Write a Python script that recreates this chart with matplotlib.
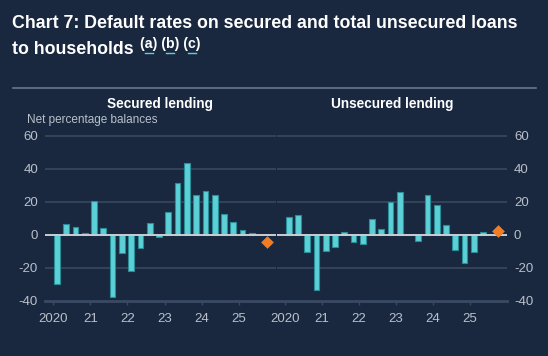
import numpy as np
import matplotlib
matplotlib.use("Agg")
import matplotlib.pyplot as plt


# ----------------------
# DATA (net percentage balances, quarterly 2020 Q1 - 2025 Q2)
# ----------------------
quarters = [f"{y} Q{q}" for y in range(2020, 2026) for q in range(1, 5)][:22]

secured = [-30, 6.5, 4.8, 0.8, 20.4, 3.8, -37.6, -11.3, -22.2, -7.9, 6.9, -1.4,
           13.9, 31.1, 43.6, 23.8, 26.3, 24.0, 12.5, 7.9, 2.6, 0.8]
unsecured = [10.9, 12.1, -10.3, -33.5, -9.9, -7.3, 1.8, -4.6, -5.5, 9.3, 3.2, 19.8,
             25.7, 0.0, -3.6, 23.8, 17.8, 5.9, -9.5, -17.2, -10.5, 1.4]

# expectations (diamonds)
expect_x = 2025.75
secured_expect = -4.4
unsecured_expect = 2.4

year_ticks = [2020, 2021, 2022, 2023, 2024, 2025]
year_labels = ["2020", "21", "22", "23", "24", "25"]
y_ticks = [-40, -20, 0, 20, 40, 60]

# ----------------------
# STYLE
# ----------------------
BG = "#19283f"
BAR = "#5bd0d6"
BAR_EDGE = "#2a8e99"
DIAMOND = "#f27c22"
GRID = "#3a4a62"
ZERO = "#c9ced6"
TICK_TXT = "#b9c0cb"

plt.rcParams['font.family'] = ['Liberation Sans', 'DejaVu Sans']
plt.rcParams['axes.unicode_minus'] = False

# quarter -> position on a year axis
def quarter_pos(label):
    y, q = label.split(" Q")
    return int(y) + (int(q) - 1) * 0.25 + 0.1

xs = np.array([quarter_pos(q) for q in quarters])

fig = plt.figure(figsize=(5.48, 3.56), dpi=100)
fig.patch.set_facecolor(BG)

W, H = 548.0, 356.0
ax_l = fig.add_axes([45 / W, 1 - 300.5 / H, 231 / W, 165.5 / H])
ax_r = fig.add_axes([277 / W, 1 - 300.5 / H, 230 / W, 165.5 / H])

for ax, vals, ev in [(ax_l, secured, secured_expect), (ax_r, unsecured, unsecured_expect)]:
    ax.set_facecolor(BG)
    for yv in [60, 40, 20, -20]:
        ax.axhline(yv, color=GRID, lw=1.1, zorder=0)
    ax.bar(xs, vals, width=0.155, color=BAR, edgecolor=BAR_EDGE, linewidth=0.8, zorder=2)
    ax.axhline(0, color=ZERO, lw=1.4, zorder=3)
    ax.scatter([expect_x], [ev], marker="D", s=42, color=DIAMOND, zorder=4, linewidths=0)
    ax.set_xlim(2019.78, 2026.0)
    ax.set_ylim(-40, 60.5)
    for s in ["top", "left", "right"]:
        ax.spines[s].set_visible(False)
    ax.spines["bottom"].set_color(GRID)
    ax.spines["bottom"].set_linewidth(2)
    ax.set_xticks(year_ticks)
    ax.set_xticklabels(year_labels)
    ax.tick_params(axis="x", colors=GRID, labelcolor=TICK_TXT, labelsize=9.5,
                   length=3, width=1, pad=6)
    ax.set_yticks(y_ticks)
    ax.tick_params(axis="y", length=0, labelcolor=TICK_TXT, labelsize=9.5, pad=5)

ax_r.yaxis.tick_right()
ax_r.tick_params(axis="y", pad=5)

# ----------------------
# TEXT
# ----------------------
fig.text(12 / W, 1 - 23 / H, "Chart 7: Default rates on secured and total unsecured loans",
         color="white", fontsize=12.8, fontweight="bold", va="center", ha="left")
fig.text(12 / W, 1 - 49 / H, "to households", color="white", fontsize=12.8,
         fontweight="bold", va="center", ha="left")
fig.text(140 / W, 1 - 44 / H, "(a) (b) (c)", color="white", fontsize=10.2,
         fontweight="bold", va="center", ha="left")
# short link underlines under the footnote letters
for ux in [149, 170, 192]:
    fig.add_artist(plt.Line2D([(ux - 4) / W, (ux + 4) / W], [1 - 53 / H, 1 - 53 / H],
                              color="#5bd0d6", lw=1.0))
fig.add_artist(plt.Line2D([13 / W, 536 / W], [1 - 88 / H, 1 - 88 / H],
                          color="#6b7789", lw=1.2))

fig.text(160 / W, 1 - 104 / H, "Secured lending", color="white", fontsize=9.8,
         fontweight="bold", ha="center", va="center")
fig.text(392 / W, 1 - 104 / H, "Unsecured lending", color="white", fontsize=9.8,
         fontweight="bold", ha="center", va="center")
fig.text(27 / W, 1 - 120 / H, "Net percentage balances", color=TICK_TXT, fontsize=8.5,
         ha="left", va="center")

plt.savefig("out.png", dpi=100, facecolor=BG)
